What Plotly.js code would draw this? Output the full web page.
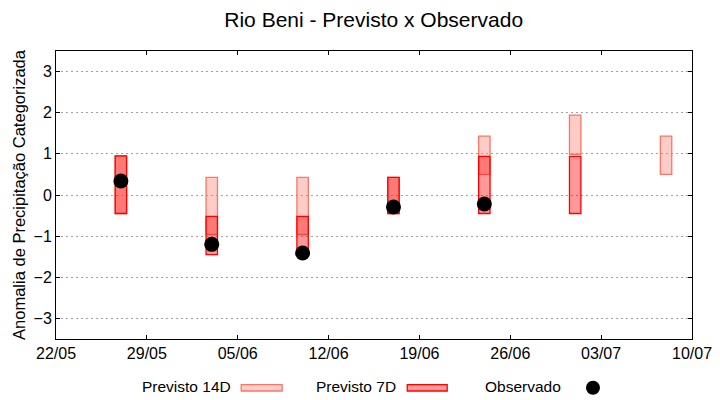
<!DOCTYPE html>
<html>
<head>
<meta charset="utf-8">
<script src="https://cdn.plot.ly/plotly-3.0.1.min.js"></script>
<style>html,body{margin:0;padding:0;background:#fff;}#chart{width:720px;height:400px;}</style>
</head>
<body>
<div id="chart"></div>
<script>
// Data
var dates = ['2023-05-27', '2023-06-03', '2023-06-10', '2023-06-17', '2023-06-24', '2023-07-01', '2023-07-08'];
var prev14Low  = [-0.45, -0.96, -0.96, -0.45, 0.50, 0.99, 0.50];
var prev14High = [ 0.95,  0.43,  0.43,  0.43, 1.43, 1.94, 1.43];
var prev7Low   = [-0.45, -1.45, -1.45, -0.45, -0.45, -0.45, null];
var prev7High  = [ 0.95, -0.52, -0.52,  0.43,  0.94,  0.94, null];
var observado  = [ 0.34, -1.20, -1.41, -0.29, -0.22, null, null];
var xTicks = ['2023-05-22', '2023-05-29', '2023-06-05', '2023-06-12', '2023-06-19', '2023-06-26', '2023-07-03', '2023-07-10'];
var xTickText = ['22/05', '29/05', '05/06', '12/06', '19/06', '26/06', '03/07', '10/07'];
var seriesNames = ['Previsto 14D', 'Previsto 7D', 'Observado'];

var DAY = 86400000;
var barW = 0.88 * DAY;

function span(lo, hi) { return lo.map(function (v, i) { return (v === null || hi[i] === null) ? null : hi[i] - v; }); }

var c14fill = 'rgba(250,128,114,0.4)', c14line = 'rgb(245,120,105)';
var c7fill = 'rgba(255,0,0,0.4)', c7line = 'rgb(255,0,0)';

var traces = [
  {type: 'bar', name: seriesNames[0], x: dates, y: span(prev14Low, prev14High), base: prev14Low,
   width: barW, marker: {color: c14fill, line: {color: c14line, width: 1.3}}, showlegend: false, hoverinfo: 'skip'},
  {type: 'bar', name: seriesNames[1], x: dates, y: span(prev7Low, prev7High), base: prev7Low,
   width: barW, marker: {color: c7fill, line: {color: c7line, width: 1.3}}, showlegend: false, hoverinfo: 'skip'},
  {type: 'scatter', mode: 'markers', name: seriesNames[2], x: dates, y: observado,
   marker: {color: '#000', size: 15, symbol: 'circle'}, showlegend: false, cliponaxis: false}
];

var F = 'Liberation Sans, Arial, sans-serif';
var legY = -0.166;
var legFont = {family: F, size: 15.5, color: '#000'};
var layout = {
  width: 720, height: 400,
  margin: {l: 56, r: 28, t: 51, b: 61},
  paper_bgcolor: '#fff', plot_bgcolor: '#fff',
  font: {family: F, size: 16, color: '#000'},
  barmode: 'overlay',
  title: {text: 'Rio Beni - Previsto x Observado', font: {family: F, size: 21, color: '#000'},
          x: 0.519, xanchor: 'center', y: 0.952, yanchor: 'middle'},
  xaxis: {
    type: 'date', range: ['2023-05-22', '2023-07-10'],
    tickvals: xTicks, ticktext: xTickText,
    ticks: 'inside', ticklen: 4, tickcolor: '#000', mirror: 'ticks',
    showline: true, linecolor: '#000', linewidth: 1,
    showgrid: false, zeroline: false,
    tickfont: {family: F, size: 16, color: '#000'}
  },
  yaxis: {
    range: [-3.5, 3.5], tickvals: [-3, -2, -1, 0, 1, 2, 3],
    ticks: 'inside', ticklen: 4, tickcolor: '#000', mirror: 'ticks',
    showline: true, linecolor: '#000', linewidth: 1,
    showgrid: true, gridcolor: '#a0a0a0', gridwidth: 1, griddash: '2px,3px',
    zeroline: false,
    tickfont: {family: F, size: 16, color: '#000'},
    title: {text: 'Anomalia de Precipitação Categorizada', font: {family: F, size: 16.5, color: '#000'}, standoff: 3}
  },
  annotations: [
    {xref: 'paper', yref: 'paper', x: 0.2787, y: legY, xanchor: 'right', yanchor: 'middle', text: seriesNames[0], showarrow: false, font: legFont},
    {xref: 'paper', yref: 'paper', x: 0.5381, y: legY, xanchor: 'right', yanchor: 'middle', text: seriesNames[1], showarrow: false, font: legFont},
    {xref: 'paper', yref: 'paper', x: 0.7972, y: legY, xanchor: 'right', yanchor: 'middle', text: seriesNames[2], showarrow: false, font: legFont}
  ],
  shapes: [
    {type: 'rect', xref: 'paper', yref: 'paper', x0: 0.2912, x1: 0.3556, y0: -0.1806, y1: -0.1587, fillcolor: c14fill, line: {color: c14line, width: 1.3}},
    {type: 'rect', xref: 'paper', yref: 'paper', x0: 0.5523, x1: 0.6151, y0: -0.1806, y1: -0.1587, fillcolor: c7fill, line: {color: c7line, width: 1.3}},
    {type: 'circle', xref: 'paper', yref: 'paper', xsizemode: 'pixel', ysizemode: 'pixel', xanchor: 0.8443, yanchor: -0.1691,
     x0: -7, x1: 7, y0: -7, y1: 7, fillcolor: '#000', line: {color: '#000', width: 0}}
  ]
};

Plotly.newPlot('chart', traces, layout, {staticPlot: true, displayModeBar: false});
</script>
</body>
</html>
